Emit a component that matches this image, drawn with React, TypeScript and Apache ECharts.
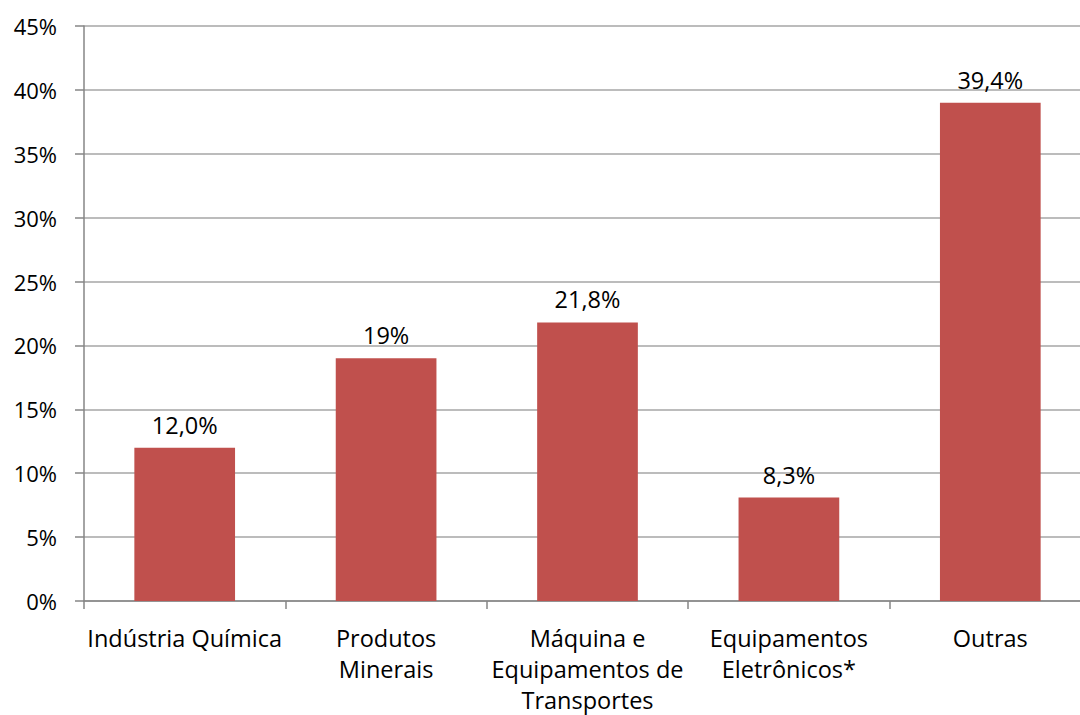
import React, { useEffect, useRef } from "react";
import * as echarts from "echarts";

const categories = [
  "Indústria Química",
  "Produtos\nMinerais",
  "Máquina e\nEquipamentos de\nTransportes",
  "Equipamentos\nEletrônicos*",
  "Outras",
];
const values = [12.0, 19.0, 21.8, 8.1, 39.0];
const valueLabels = ["12,0%", "19%", "21,8%", "8,3%", "39,4%"];

const FONT = "'Open Sans', sans-serif";
const FS = 23.5;

export default function App() {
  const ref = useRef<HTMLDivElement>(null);
  useEffect(() => {
    if (!ref.current) return;
    const chart = echarts.init(ref.current, undefined, { renderer: "svg" });
    chart.setOption({
      animation: false,
      backgroundColor: "#ffffff",
      textStyle: { fontFamily: FONT },
      grid: { left: 84, right: 0, top: 26, bottom: 114, containLabel: false },
      xAxis: {
        type: "category",
        data: categories,
        axisLine: { lineStyle: { color: "#868686", width: 1.5 } },
        axisTick: { show: true, length: 8, lineStyle: { color: "#868686", width: 1.5 } },
        axisLabel: {
          color: "#000",
          fontSize: FS,
          fontFamily: FONT,
          lineHeight: 31,
          margin: 21,
          interval: 0,
        },
      },
      yAxis: {
        type: "value",
        min: 0,
        max: 45,
        interval: 5,
        axisLine: { show: true, lineStyle: { color: "#868686", width: 1.5 } },
        axisTick: { show: true, length: 9, lineStyle: { color: "#868686", width: 1.5 } },
        axisLabel: {
          color: "#000",
          fontSize: 22,
          fontFamily: FONT,
          margin: 27,
          formatter: "{value}%",
        },
        splitLine: { lineStyle: { color: "#a6a6a6", width: 1.5 } },
      },
      series: [
        {
          type: "bar",
          data: values,
          barWidth: "50%",
          itemStyle: { color: "#C0504D" },
          label: {
            show: true,
            position: "top",
            distance: 11,
            color: "#000",
            fontSize: FS,
            fontFamily: FONT,
            formatter: (p: any) => valueLabels[p.dataIndex],
          },
        },
      ],
    });
    return () => chart.dispose();
  }, []);
  return (
    <div
      style={{
        position: "absolute",
        left: 0,
        top: 0,
        width: 1080,
        height: 715,
        overflow: "hidden",
        background: "#fff",
      }}
    >
      <div ref={ref} style={{ width: 1091, height: 715 }} />
    </div>
  );
}
